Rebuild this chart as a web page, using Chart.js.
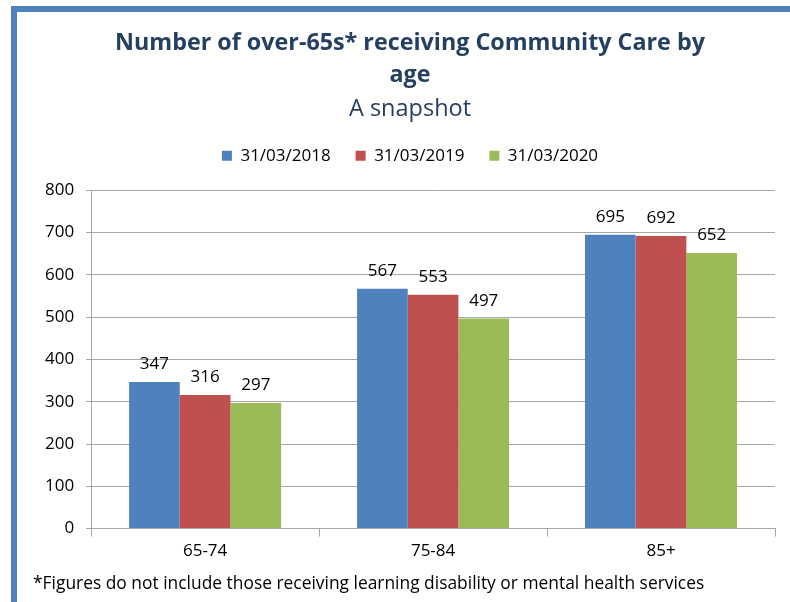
<!DOCTYPE html>
<html>
<head>
<meta charset="utf-8">
<script src="https://cdn.jsdelivr.net/npm/chart.js@4/dist/chart.umd.min.js"></script>
<style>
  html, body { margin: 0; padding: 0; background: #fff; }
  #wrap { position: relative; width: 790px; height: 602px; overflow: hidden; }
  #frame-left { position: absolute; left: 11px; top: 6px; width: 6px; height: 602px; background: #4f81bd; }
  #frame-top { position: absolute; left: 11px; top: 6px; width: 790px; height: 6px; background: #4f81bd; }
  #chart-box { position: absolute; left: 0; top: 0; width: 790px; height: 602px; }
  #note { position: absolute; left: 33px; top: 570px; font-family: "Open Sans", sans-serif; font-size: 17.4px; color: #000; white-space: nowrap; }
</style>
</head>
<body>
<div id="wrap">
  <div id="chart-box"><canvas id="chart"></canvas></div>
  <div id="frame-left"></div>
  <div id="frame-top"></div>
  <div id="note">*Figures do not include those receiving learning disability or mental health services</div>
</div>
<script>
// Age bands and snapshot dates
const AGE_BANDS = ["65-74", "75-84", "85+"];
const SERIES_LABELS = ["31/03/2018", "31/03/2019", "31/03/2020"];
const VALUES_2018 = [347, 567, 695];
const VALUES_2019 = [316, 553, 692];
const VALUES_2020 = [297, 497, 652];
const SERIES_COLORS = ["#4f81bd", "#c0504d", "#9bbb59"];

const TITLE_COLOR = "#243f60";
const FONT = "'Open Sans', sans-serif";

// Draw value labels above each bar
const barLabels = {
  id: "barLabels",
  afterDatasetsDraw(chart) {
    const ctx = chart.ctx;
    ctx.save();
    ctx.font = `17px ${FONT}`;
    ctx.fillStyle = "#000";
    ctx.textAlign = "center";
    ctx.textBaseline = "bottom";
    chart.data.datasets.forEach((ds, i) => {
      const meta = chart.getDatasetMeta(i);
      meta.data.forEach((bar, j) => {
        ctx.fillText(ds.data[j], bar.x, bar.y - 9);
      });
    });
    ctx.restore();
  },
};

// Leave extra room between the legend and the plot
const legendGap = {
  id: "legendGap",
  afterInit(chart) {
    const fit = chart.legend.fit;
    chart.legend.fit = function () {
      fit.call(this);
      this.height += 16;
    };
  },
};

const datasets = [VALUES_2018, VALUES_2019, VALUES_2020].map((vals, i) => ({
  label: SERIES_LABELS[i],
  data: vals,
  backgroundColor: SERIES_COLORS[i],
  borderWidth: 0,
  categoryPercentage: 0.667,
  barPercentage: 1.0,
}));

new Chart(document.getElementById("chart"), {
  type: "bar",
  data: { labels: AGE_BANDS, datasets: datasets },
  plugins: [barLabels, legendGap],
  options: {
    responsive: true,
    maintainAspectRatio: false,
    animation: false,
    layout: { padding: { left: 45, right: 15, top: 27, bottom: 37 } },
    plugins: {
      title: {
        display: true,
        text: ["Number of over-65s* receiving Community Care by", "age"],
        color: TITLE_COLOR,
        font: { family: FONT, size: 23.3, weight: "bold", lineHeight: 1.37 },
        padding: { top: 0, bottom: 0 },
      },
      subtitle: {
        display: true,
        text: "A snapshot",
        color: TITLE_COLOR,
        font: { family: FONT, size: 23.5, weight: "normal", lineHeight: 1.0 },
        padding: { top: 7, bottom: 1 },
      },
      legend: {
        display: true,
        position: "top",
        labels: {
          boxWidth: 10,
          boxHeight: 10,
          padding: 25,
          color: "#000",
          font: { family: FONT, size: 17 },
        },
      },
      tooltip: { enabled: false },
    },
    scales: {
      x: {
        grid: {
          drawOnChartArea: false,
          drawTicks: true,
          tickLength: 8,
          color: "#a6a6a6",
        },
        border: { color: "#a6a6a6" },
        ticks: { color: "#000", font: { family: FONT, size: 17 }, padding: 4 },
      },
      y: {
        min: 0,
        max: 800,
        afterFit(scale) {
          // let the tick labels reach into the left padding
          scale.width -= 12;
        },
        ticks: {
          stepSize: 100,
          color: "#000",
          font: { family: FONT, size: 17 },
          padding: 12,
        },
        grid: { color: "#a6a6a6", tickLength: 5 },
        border: { color: "#a6a6a6" },
      },
    },
  },
});
</script>
</body>
</html>
